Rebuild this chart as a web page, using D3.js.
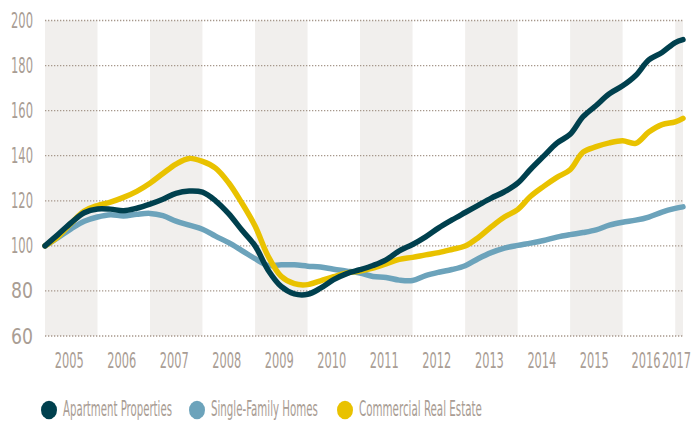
<!DOCTYPE html>
<html><head><meta charset="utf-8">
<script src="https://cdn.jsdelivr.net/npm/d3@7"></script>
<style>
html,body{margin:0;padding:0;background:#fff;}
text{font-family:"Liberation Sans Narrow","DejaVu Sans Condensed","Roboto Condensed","Liberation Sans",sans-serif;fill:#a99d94;}
</style></head>
<body><svg id="c" width="694" height="421"></svg>
<script>
const dates = ["2005-01","2005-04","2005-07","2005-10","2006-01","2006-04","2006-07","2006-10",
"2007-01","2007-04","2007-07","2007-10","2008-01","2008-04","2008-07","2008-10",
"2009-01","2009-04","2009-07","2009-10","2010-01","2010-04","2010-07","2010-10",
"2011-01","2011-04","2011-07","2011-10","2012-01","2012-04","2012-07","2012-10",
"2013-01","2013-04","2013-07","2013-10","2014-01","2014-04","2014-07","2014-10",
"2015-01","2015-04","2015-07","2015-10","2016-01","2016-04","2016-07","2016-10",
"2017-01","2017-02-24"];
const apartment = [100,105,110.2,114.7,116.4,116.3,115.6,116.7,118.5,120.7,123.3,124.3,123.8,120,114.3,107,
100,89.3,82,78.7,78.5,81.2,85,87.7,89.4,91.3,93.8,97.8,100.6,104,108,111.5,
114.8,118,121.2,124,127.8,134,139.8,145.6,149.5,157.3,162.3,167.5,171,175.6,182.5,185.8,190.2,191.5];
const singleFamily = [100,103.6,107.5,110.9,112.8,113.8,113.3,114,114.4,113.4,111,109.2,107.4,104.3,101.4,97.9,
94.3,91.3,91.6,91.6,91,90.6,89.6,88.8,87.9,86.4,86,84.8,84.6,86.8,88.3,89.5,
91.2,94.3,97,99,100.2,101.2,102.4,103.9,105,105.9,107.1,109.2,110.5,111.4,112.8,115,116.6,117.3];
const commercial = [100,104,110,115.4,117.9,119.4,121.5,124.2,127.8,132.1,136.3,138.8,137.5,134.5,128,119,
108.8,95.5,86.5,83.2,82.8,84.5,86.3,88,88.8,90.1,92,94,94.9,96,97,98.4,
99.9,103.6,108.4,112.8,116.1,122,126.4,130.4,133.8,141.6,144,145.7,146.6,145.5,150.5,153.8,155,156.6];
const yTicks = [60,80,100,120,140,160,180,200];
const years = [2005,2006,2007,2008,2009,2010,2011,2012,2013,2014,2015,2016,2017];
const seriesNames = ["Apartment Properties","Single-Family Homes","Commercial Real Estate"];
const seriesColors = ["#00404e","#6ca3bb","#e9c200"];

const parse = s => s.length > 7 ? d3.timeParse("%Y-%m-%d")(s) : d3.timeParse("%Y-%m")(s);
const dts = dates.map(parse);
const svg = d3.select("#c");
const x0 = 45, x1 = 683;
const x = d3.scaleTime().domain([dts[0], dts[dts.length-1]]).range([x0, x1]);
const y = d3.scaleLinear().domain([60,200]).range([336,20.5]);

function ctext(str, lx, by, w, fs) {
  const t = svg.append("text").attr("font-size", fs).text(str);
  const nat = t.node().getComputedTextLength();
  const s = w / nat;
  t.attr("transform", `translate(${lx},${by}) scale(${s},1)`);
  return t;
}

years.forEach((yr,i) => {
  if (i % 2 === 0) {
    const a = Math.max(x0, x(new Date(yr,0,1))), b = Math.min(x1, x(new Date(yr+1,0,1)));
    svg.append("rect").attr("x",a).attr("y",y(200)).attr("width",b-a).attr("height",y(60)-y(200)).attr("fill","#f1efed");
  }
});
svg.append("g").selectAll("line").data(yTicks).join("line")
  .attr("x1",x0).attr("x2",x1).attr("y1",d=>y(d)).attr("y2",d=>y(d))
  .attr("stroke","#a6978b").attr("stroke-width",1.3).attr("stroke-dasharray","1.3,1.7");
yTicks.forEach(v => ctext(String(v), 33 - 22, y(v) + 7.5, 22, 21.5));
years.forEach(yr => {
  const a = Math.max(x0, x(new Date(yr,0,1))), b = Math.min(x1, x(new Date(yr+1,0,1)));
  let cx = (a+b)/2 - 2;
  if (yr === 2017) cx = 676.5;
  if (yr === 2016) cx = 646;
  ctext(String(yr), cx - 14.5, 367.5, 29, 21.5);
});
const line = d3.line().x((d,i)=>x(dts[i])).y(d=>y(d)).curve(d3.curveCatmullRom.alpha(0.5));
const order = [[singleFamily,1],[commercial,2],[apartment,0]];
order.forEach(([vals,ci]) => {
  svg.append("path").datum(vals).attr("d",line).attr("fill","none")
    .attr("stroke",seriesColors[ci]).attr("stroke-width",5.5)
    .attr("stroke-linecap","round").attr("stroke-linejoin","round");
});
const legX = [49,197,345], legW = [109,107,123];
seriesNames.forEach((n,i) => {
  svg.append("ellipse").attr("cx",legX[i]).attr("cy",410).attr("rx",8).attr("ry",9.3).attr("fill",seriesColors[i]);
  ctext(n, legX[i]+14, 416, legW[i], 21);
});
</script></body></html>
